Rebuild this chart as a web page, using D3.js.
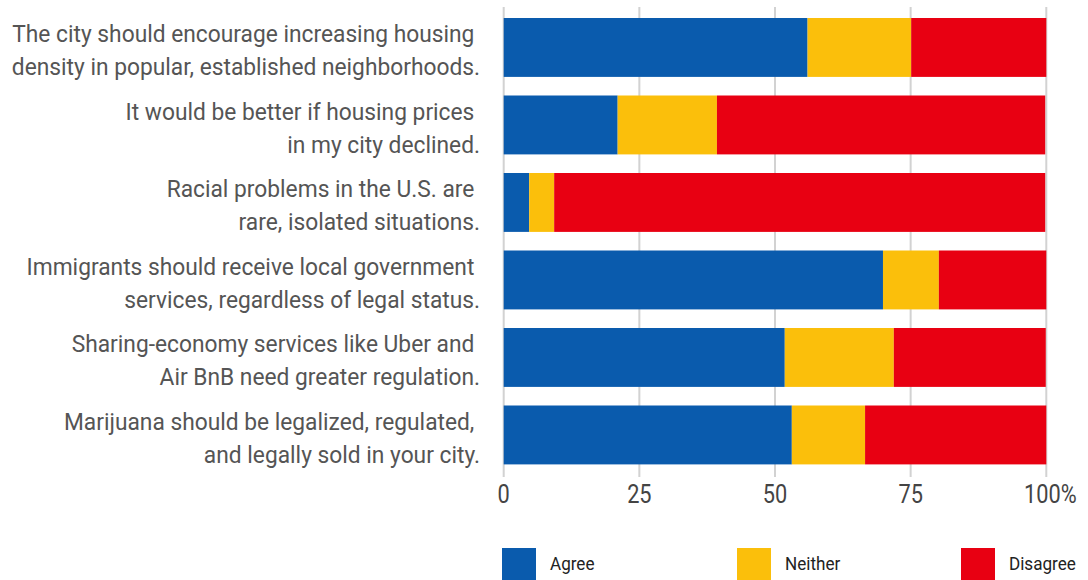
<!DOCTYPE html>
<html>
<head>
<meta charset="utf-8">
<script src="https://cdn.jsdelivr.net/npm/d3@7"></script>
<style>
  html, body { margin: 0; padding: 0; background: #fff; }
  svg { display: block; font-family: Roboto, "Noto Sans", sans-serif; }
  text { white-space: pre; }
</style>
</head>
<body>
<svg id="chart" width="1088" height="580"></svg>
<script>
// Survey statements, each split into its two display lines
const statements = [
  ["The city should encourage increasing housing ", "density in popular, established neighborhoods."],
  ["It would be better if housing prices ", "in my city declined."],
  ["Racial problems in the U.S. are ", "rare, isolated situations."],
  ["Immigrants should receive local government ", "services, regardless of legal status."],
  ["Sharing-economy services like Uber and ", "Air BnB need greater regulation."],
  ["Marijuana should be legalized, regulated, ", "and legally sold in your city."]
];
const responses = ["Agree", "Neither", "Disagree"];

// Share of respondents (%) per statement
const agree    = [56.0, 21.0,  4.7, 69.9, 51.8, 53.1];
const neither  = [19.1, 18.3,  4.6, 10.3, 20.1, 13.5];
const disagree = [24.9, 60.5, 90.5, 19.8, 28.0, 33.4];

const xTicks = [0, 25, 50, 75, 100];

const colors = { Agree: "#0a5bad", Neither: "#fbbf0b", Disagree: "#e80012" };

const rows = statements.map((s, i) => ({
  id: i, lines: s, Agree: agree[i], Neither: neither[i], Disagree: disagree[i]
}));

const svg = d3.select("#chart");

const x = d3.scaleLinear().domain([0, 100]).range([503.7, 1046.3]);
const y = d3.scaleBand().domain(rows.map(d => d.id))
  .range([8.7, 473.7]).paddingInner(0.24).paddingOuter(0.12);

// Vertical gridlines
svg.append("g").selectAll("line").data(xTicks).join("line")
  .attr("x1", d => x(d)).attr("x2", d => x(d))
  .attr("y1", 7).attr("y2", 477)
  .attr("stroke", "#d2d2d2").attr("stroke-width", 2);

// Stacked bars
const stack = d3.stack().keys(responses)(rows);
svg.append("g").selectAll("g").data(stack).join("g")
  .attr("fill", s => colors[s.key])
  .selectAll("rect").data(s => s).join("rect")
  .attr("x", d => x(d[0]))
  .attr("width", d => x(d[1]) - x(d[0]))
  .attr("y", d => y(d.data.id))
  .attr("height", y.bandwidth());

// Statement labels, right-aligned, two lines
const labels = svg.append("g").selectAll("g").data(rows).join("g")
  .attr("transform", d => `translate(480,${y(d.id) + y.bandwidth() / 2}) scale(0.99,1)`);
labels.selectAll("text").data(d => d.lines).join("text")
  .attr("text-anchor", "end")
  .attr("y", (d, i) => i === 0 ? -5 : 28)
  .attr("font-size", 23)
  .attr("fill", "#555")
  .text(d => d);

// X axis tick labels
svg.append("g").selectAll("text").data(xTicks).join("text")
  .attr("transform", d => `translate(${x(d) + (d === 100 ? 4 : 0)},503) scale(0.87,1)`)
  .attr("text-anchor", "middle")
  .attr("font-size", 25)
  .attr("fill", "#444")
  .text(d => d === 100 ? d + "%" : d);

// Legend
const legendX = [502, 737, 961];
const legend = svg.append("g").selectAll("g").data(responses).join("g")
  .attr("transform", (d, i) => `translate(${legendX[i]},548)`);
legend.append("rect").attr("width", 34).attr("height", 34).attr("fill", d => colors[d]);
legend.append("text")
  .attr("transform", "translate(48,22) scale(0.9,1)")
  .attr("font-size", 19)
  .attr("fill", "#222")
  .text(d => d);
</script>
</body>
</html>
